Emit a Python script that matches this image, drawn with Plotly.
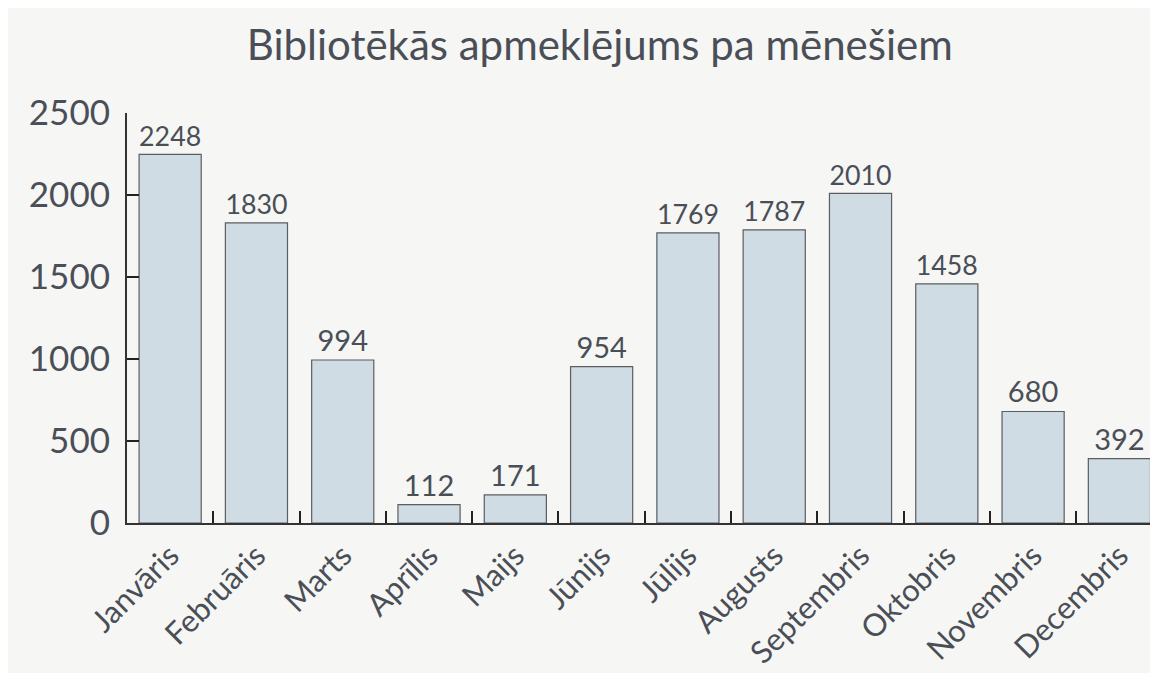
import plotly.graph_objects as go

months = ["Janvāris", "Februāris", "Marts", "Aprīlis", "Maijs", "Jūnijs",
          "Jūlijs", "Augusts", "Septembris", "Oktobris", "Novembris", "Decembris"]
visits = [2248, 1830, 994, 112, 171, 954, 1769, 1787, 2010, 1458, 680, 392]
y_ticks = [0, 500, 1000, 1500, 2000, 2500]

TEXT = "#4a4e57"
BG = "#f6f6f4"
FONT = "Lato, 'Open Sans', sans-serif"

fig = go.Figure(
    go.Bar(
        x=months,
        y=visits,
        text=[str(v) for v in visits],
        textposition="outside",
        textfont=dict(size=29, color=TEXT, family=FONT),
        cliponaxis=False,
        marker=dict(color="#cfdce3", line=dict(color="#5a5d62", width=1.2)),
        showlegend=False,
    )
)

fig.update_layout(
    width=1158,
    height=673,
    paper_bgcolor=BG,
    plot_bgcolor=BG,
    margin=dict(l=119, r=0, t=105, b=158),
    bargap=0.28,
    font=dict(family=FONT, color=TEXT),
    title=dict(
        text="Bibliotēkās apmeklējums pa mēnešiem",
        x=0.511,
        xanchor="center",
        y=0.945,
        yanchor="middle",
        font=dict(size=42, color=TEXT, family=FONT),
    ),
)

fig.update_xaxes(
    range=[-0.5, 11.54],
    showline=True,
    linecolor="#333333",
    linewidth=2,
    ticks="inside",
    tickson="boundaries",
    ticklen=12,
    tickcolor="#222222",
    tickwidth=2,
    tickangle=-45,
    tickfont=dict(size=31, color=TEXT, family=FONT),
    ticklabelstandoff=0,
    showgrid=False,
)

fig.update_yaxes(
    range=[0, 2500],
    tickvals=y_ticks,
    showline=True,
    linecolor="#333333",
    linewidth=2,
    ticks="inside",
    ticklen=12,
    tickcolor="#222222",
    tickwidth=2,
    tickfont=dict(size=35, color=TEXT, family=FONT),
    ticklabelstandoff=8,
    showgrid=False,
    zeroline=False,
)

fig.write_html("out.html")
